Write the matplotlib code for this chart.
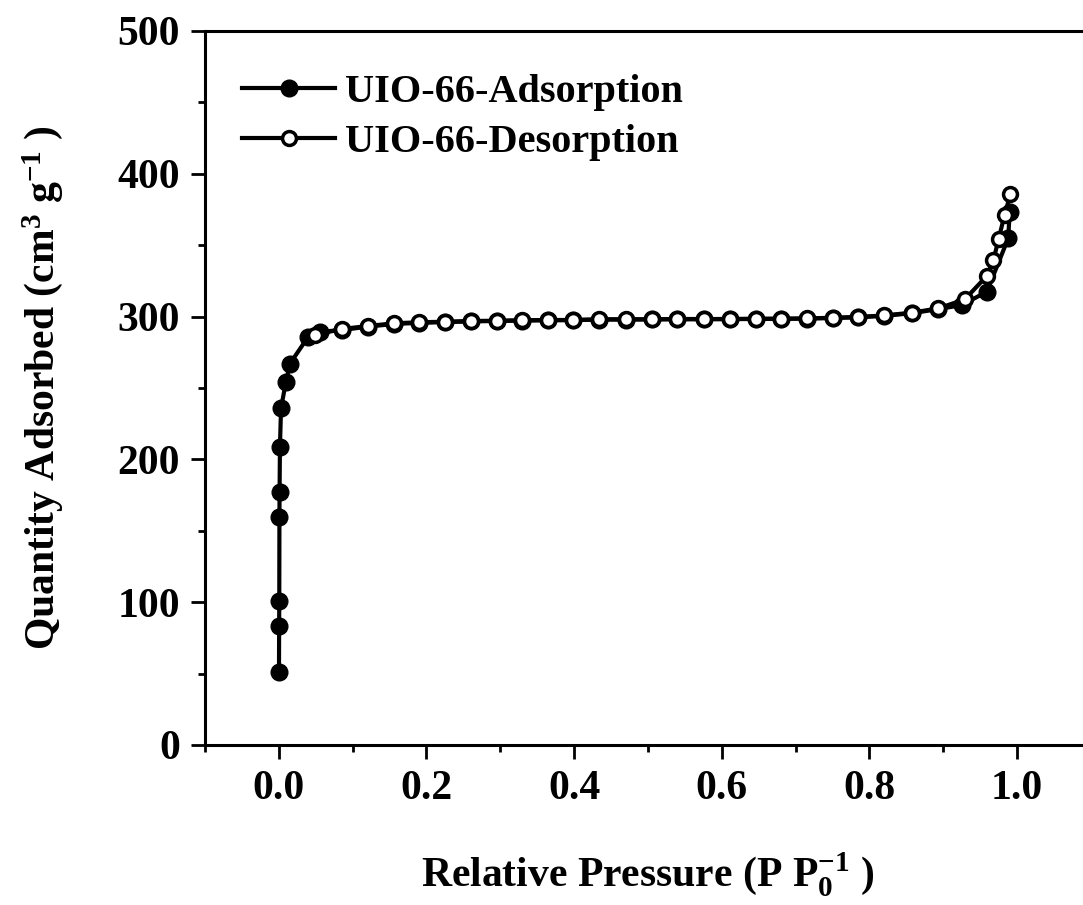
import matplotlib
matplotlib.use("Agg")
from matplotlib import pyplot as plt
from matplotlib.ticker import MultipleLocator, FormatStrFormatter

# N2 isotherm of UIO-66
ads_p = [0.0002, 0.0004, 0.0006, 0.0008, 0.001, 0.0015, 0.003, 0.0095, 0.015, 0.040, 0.056,
         0.085, 0.121, 0.156, 0.190, 0.225, 0.260, 0.295, 0.329, 0.365, 0.398, 0.434,
         0.470, 0.505, 0.540, 0.576, 0.611, 0.646, 0.680, 0.716, 0.751, 0.785, 0.820,
         0.857, 0.893, 0.925, 0.959, 0.988, 0.990]
ads_v = [51, 83, 101, 160, 177, 209, 236, 254, 267, 286, 289.4,
         290.5, 293.0, 294.8, 295.6, 296.1, 296.6, 296.9, 297.2, 297.4, 297.5, 297.9,
         297.9, 298.0, 298.1, 298.1, 298.2, 298.3, 298.4, 298.6, 299.0, 299.5, 300.5,
         302.3, 305.2, 308.0, 317.4, 354.8, 373.5]

des_p = [0.991, 0.983, 0.975, 0.968, 0.959, 0.929, 0.893, 0.857, 0.820, 0.785, 0.751,
         0.716, 0.680, 0.646, 0.611, 0.576, 0.540, 0.505, 0.470, 0.434, 0.398, 0.365,
         0.329, 0.295, 0.260, 0.225, 0.190, 0.156, 0.121, 0.085, 0.049]
des_v = [385.8, 371.1, 354.3, 339.6, 328.4, 312.0, 305.7, 302.7, 300.8, 299.7, 299.2,
         298.7, 298.5, 298.5, 298.3, 298.3, 298.3, 298.1, 298.1, 298.1, 297.6, 297.6,
         297.4, 297.1, 296.9, 296.4, 296.0, 295.3, 293.4, 291.3, 287.1]

plt.rcParams['font.family'] = ['Liberation Serif', 'DejaVu Serif']
plt.rcParams['font.weight'] = 'bold'
plt.rcParams['mathtext.fontset'] = 'custom'
plt.rcParams['mathtext.rm'] = 'Liberation Serif:bold'
plt.rcParams['mathtext.default'] = 'rm'

fig = plt.figure(figsize=(10.83, 9.05), dpi=100)
ax = fig.add_axes([0.1893, 0.1768, 0.818, 0.789])

ax.plot(ads_p, ads_v, '-o', color='black', lw=3, ms=12, mfc='black', mec='black',
        label='UIO-66-Adsorption')
ax.plot(des_p, des_v, '-o', color='black', lw=3, ms=10, mfc='white', mec='black', mew=2.5,
        label='UIO-66-Desorption')

ax.set_xlim(-0.1, 1.1)
ax.set_ylim(0, 500)
ax.xaxis.set_major_locator(MultipleLocator(0.2))
ax.xaxis.set_minor_locator(MultipleLocator(0.1))
ax.yaxis.set_major_locator(MultipleLocator(100))
ax.yaxis.set_minor_locator(MultipleLocator(50))
ax.tick_params(which='major', direction='out', length=10, width=2, labelsize=30, pad=8)
ax.tick_params(which='minor', direction='out', length=5, width=2)
ax.tick_params(top=False, right=False, which='both')
ax.xaxis.set_major_formatter(FormatStrFormatter('%.1f'))
for s in ax.spines.values():
    s.set_linewidth(2.2)

ax.set_xlabel(r'Relative Pressure (P P$_{0}^{-1}$ )', fontsize=30, fontweight='bold', labelpad=30)
ax.set_ylabel(r'Quantity Adsorbed (cm$^{3}$ g$^{-1}$ )', fontsize=30, fontweight='bold', labelpad=38)

ax.legend(loc='upper left', bbox_to_anchor=(0.042, 0.94), frameon=False,
          handlelength=2.3, handletextpad=0.25, labelspacing=0.32, borderpad=0, borderaxespad=0,
          prop={'weight': 'bold', 'size': 29})

fig.savefig('out.png', dpi=100)
